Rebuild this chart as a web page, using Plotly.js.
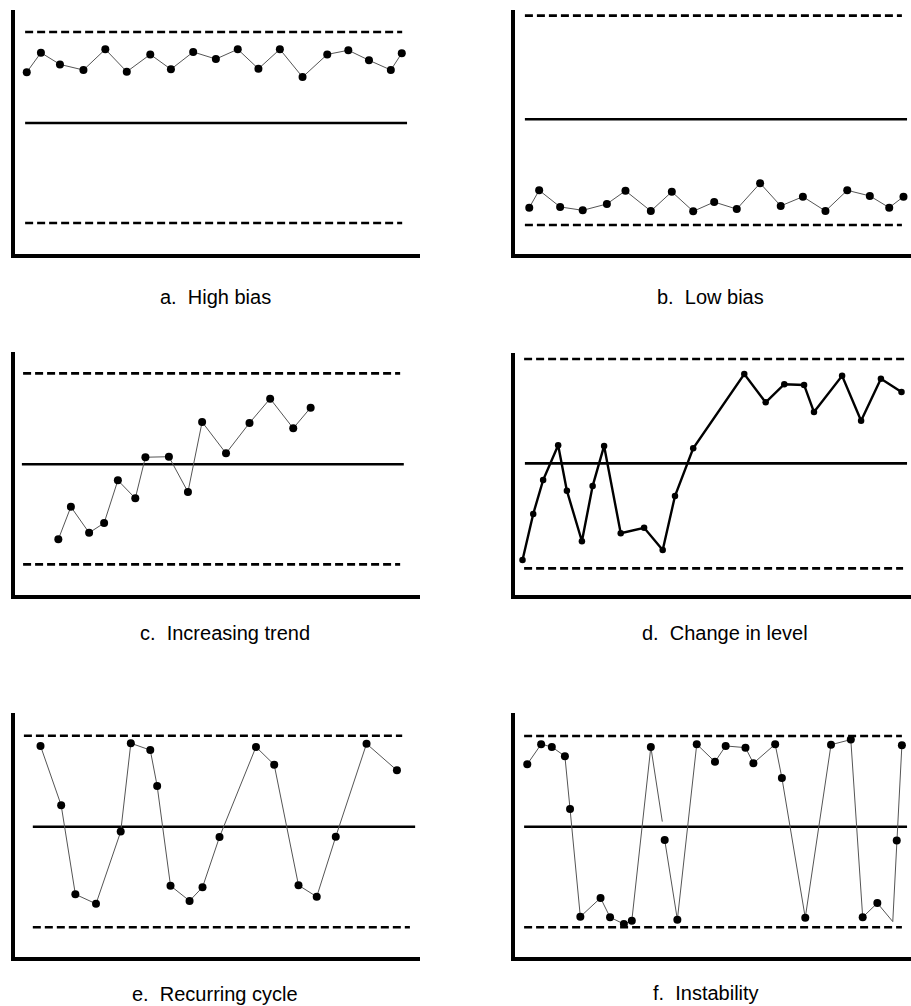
<!DOCTYPE html>
<html><head><meta charset="utf-8">
<script src="https://cdn.plot.ly/plotly-3.0.1.min.js"></script>
<style>html,body{margin:0;padding:0;background:#fff}#chart{width:911px;height:1006px}</style>
</head><body><div id="chart"></div>
<script>
// ---- DATA (values on a 0-100 scale) ----
const captions = ['a.\u00a0\u00a0High bias', 'b.\u00a0\u00a0Low bias', 'c.\u00a0\u00a0Increasing trend',
                  'd.\u00a0\u00a0Change in level', 'e.\u00a0\u00a0Recurring cycle', 'f.\u00a0\u00a0Instability'];

// control limits: [upper, centre, lower]
const limitsA = [91.0, 53.7, 12.7];
const limitsB = [97.7, 55.2, 11.9];
const limitsC = [91.2, 53.8, 12.6];
const limitsD = [97.5, 54.4, 11.0];
const limitsE = [90.7, 53.4, 12.2];
const limitsF = [90.6, 53.4, 12.2];

const aX = [2.9, 6.4, 11.1, 16.9, 22.3, 27.6, 33.4, 38.5, 44.0, 49.6, 55.0, 60.1, 65.4, 71.0, 77.1, 82.3, 87.4, 92.8, 95.5];
const aY = [74.5, 82.5, 77.7, 75.4, 83.9, 74.7, 81.8, 75.7, 82.8, 79.9, 83.9, 75.9, 83.9, 72.5, 81.8, 83.5, 79.4, 75.4, 82.3];

const bX = [3.6, 6.1, 11.4, 17.1, 23.2, 27.9, 34.3, 39.6, 45.0, 50.3, 56.0, 61.9, 67.1, 72.7, 78.4, 83.9, 89.6, 94.5, 98.1];
const bY = [19.0, 26.1, 19.3, 17.9, 20.5, 25.9, 17.6, 25.5, 17.5, 21.3, 18.4, 29.0, 19.7, 23.5, 17.6, 26.1, 23.8, 19.0, 23.5];

const cX = [10.7, 13.8, 18.3, 22.0, 25.4, 29.7, 32.2, 38.0, 42.7, 46.2, 52.1, 57.9, 63.0, 68.7, 73.0];
const cY = [22.9, 36.3, 25.6, 29.6, 47.2, 39.8, 56.7, 56.9, 42.4, 71.2, 58.3, 70.8, 80.8, 68.6, 77.1];

const dX = [1.9, 4.6, 7.1, 10.9, 13.1, 16.9, 19.6, 22.5, 26.7, 32.6, 37.3, 40.4, 45.0, 57.9, 63.3, 68.0, 73.0, 75.5, 82.6, 87.4, 92.4, 97.6];
const dY = [14.5, 33.5, 47.5, 61.9, 43.1, 22.2, 45.0, 61.6, 25.5, 27.8, 18.6, 40.9, 60.6, 91.3, 79.6, 87.1, 86.8, 75.6, 90.6, 72.0, 89.4, 83.9];

const eX = [6.3, 11.4, 14.9, 20.0, 26.1, 28.6, 33.4, 35.1, 38.4, 43.1, 46.3, 50.5, 59.5, 64.0, 70.0, 74.5, 79.2, 86.8, 94.3];
const eY = [86.5, 62.2, 25.7, 21.8, 51.4, 87.6, 84.8, 70.1, 29.2, 23.0, 28.6, 49.2, 86.1, 78.8, 29.4, 24.7, 49.3, 87.4, 76.5];

// null = break in the line; fMarked: 1 = point drawn with a dot, 0 = bare vertex
const fX = [3.1, 6.6, 9.3, 12.6, 13.9, 16.5, 21.6, 24.0, 27.5, 29.5, 34.3, 37.2, null, 37.8, 41.0, 45.9, 50.5, 53.2, 58.2, 60.2, 65.7, 67.4, 73.3, 79.8, 84.8, 87.8, 91.5, 95.4, 96.4, 97.7];
const fY = [79.0, 87.2, 86.1, 82.3, 60.7, 16.5, 24.2, 16.3, 13.5, 14.9, 86.1, 55.5, null, 48.0, 15.3, 87.2, 80.0, 86.5, 85.8, 79.4, 87.2, 73.4, 16.1, 87.0, 89.1, 16.3, 22.1, 14.5, 47.7, 86.8];
const fMarked = [1,1,1,1,1,1,1,1,1,1,1,0,0,1,1,1,1,1,1,1,1,1,1,1,1,1,1,0,1,1];

// ---- LAYOUT / STYLE ----
const W = 911, H = 1006;
const panels = [
  {x: aX, y: aY, lim: limitsA, box: [15, 420, 10, 254],  span: {up: [2.5, 95.6], mid: [2.5, 96.8], lo: [2.5, 95.6]}, cap: [215, 297], heavy: false},
  {x: bX, y: bY, lim: limitsB, box: [515, 911, 10, 254], span: {up: [2.5, 97.7], mid: [2.5, 99.0], lo: [2.5, 97.7]}, cap: [710, 297], heavy: false},
  {x: cX, y: cY, lim: limitsC, box: [15, 420, 352, 595], span: {up: [2.0, 95.1], mid: [1.7, 96.0], lo: [2.0, 95.1]}, cap: [225, 633], heavy: false},
  {x: dX, y: dY, lim: limitsD, box: [515, 911, 353, 595], span: {up: [2.3, 99.0], mid: [2.5, 99.0], lo: [2.3, 98.0]}, cap: [725, 633], heavy: true},
  {x: eX, y: eY, lim: limitsE, box: [15, 420, 713, 957], span: {up: [2.2, 95.6], mid: [4.4, 98.8], lo: [4.4, 97.5]}, cap: [215, 994], heavy: false},
  {x: fX, y: fY, lim: limitsF, box: [515, 911, 713, 957], span: {up: [2.3, 97.7], mid: [2.3, 99.0], lo: [2.3, 97.7]}, cap: [706, 993], heavy: false, marked: fMarked}
];

const traces = [];
const layout = {
  width: W, height: H, margin: {l: 0, r: 0, t: 0, b: 0},
  paper_bgcolor: '#fff', plot_bgcolor: '#fff', showlegend: false,
  font: {family: 'Liberation Sans, Arial, sans-serif', color: '#000'},
  annotations: []
};

panels.forEach((p, i) => {
  const n = i === 0 ? '' : String(i + 1);
  const xa = 'x' + n, ya = 'y' + n;
  const [l, r, t, b] = p.box;
  layout['xaxis' + n] = {
    domain: [l / W, r / W], range: [0, 100], anchor: ya,
    showline: true, linewidth: 4, linecolor: '#000',
    showgrid: false, zeroline: false, showticklabels: false, ticks: '', fixedrange: true
  };
  layout['yaxis' + n] = {
    domain: [1 - b / H, 1 - t / H], range: [0, 100], anchor: xa,
    showline: true, linewidth: 4, linecolor: '#000',
    showgrid: false, zeroline: false, showticklabels: false, ticks: '', fixedrange: true
  };
  const limStyle = [
    {span: p.span.up, dash: '8px,4px'},
    {span: p.span.mid, dash: 'solid'},
    {span: p.span.lo, dash: '8px,4px'}
  ];
  limStyle.forEach((s, k) => {
    traces.push({
      type: 'scatter', mode: 'lines', xaxis: xa, yaxis: ya, hoverinfo: 'skip',
      x: s.span, y: [p.lim[k], p.lim[k]],
      line: {color: '#000', width: 2.6, dash: s.dash}
    });
  });
  const sizes = p.marked ? p.marked.map(m => m ? 8 : 0) : 8;
  traces.push({
    type: 'scatter', mode: 'lines+markers', xaxis: xa, yaxis: ya,
    x: p.x, y: p.y, connectgaps: false,
    line: {color: p.heavy ? '#000' : '#555', width: p.heavy ? 2.4 : 1},
    marker: {color: '#000', opacity: 1, size: p.heavy ? 6.5 : sizes, line: {width: 0}}
  });
  layout.annotations.push({
    xref: 'paper', yref: 'paper', x: p.cap[0] / W, y: 1 - p.cap[1] / H,
    xanchor: 'center', yanchor: 'middle', showarrow: false,
    text: captions[i], font: {size: 20, color: '#000', family: 'Liberation Sans, Arial, sans-serif'}
  });
});

Plotly.newPlot('chart', traces, layout, {displayModeBar: false, staticPlot: true});
</script></body></html>
